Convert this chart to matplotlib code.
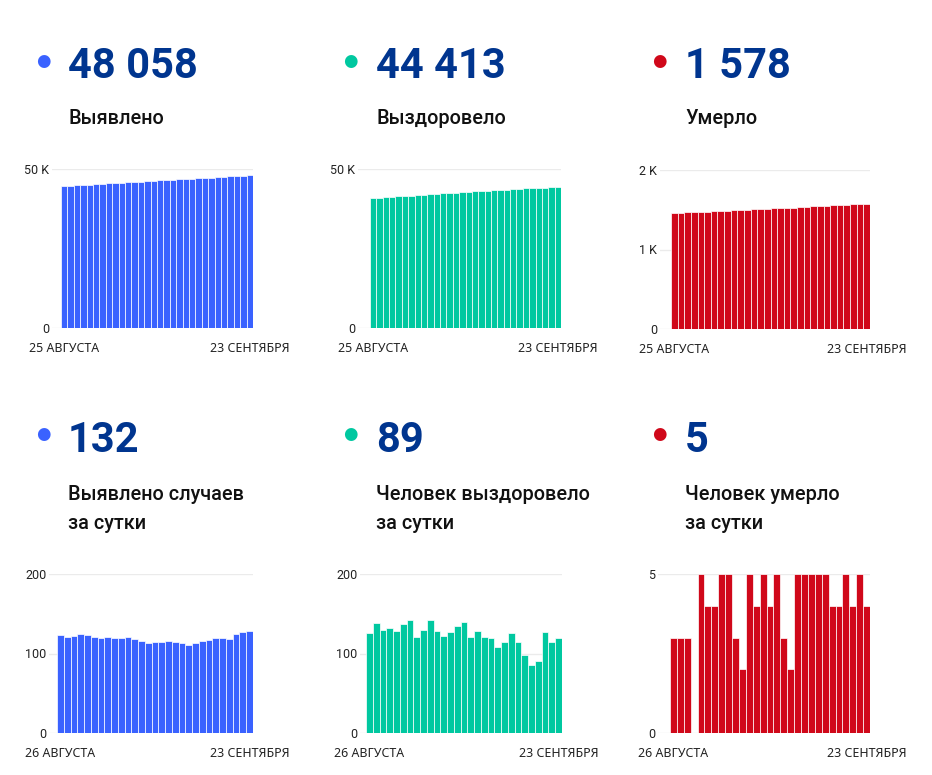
import matplotlib
matplotlib.use("Agg")
import matplotlib.pyplot as plt

plt.rcParams['font.family'] = ['Roboto', 'DejaVu Sans']

# cumulative, 25 Aug .. 23 Sep
dates_total = ["25 АВГУСТА", "23 СЕНТЯБРЯ"]
cases_total = [44610, 44733, 44854, 44976, 45100, 45223, 45344, 45463, 45584, 45704,
               45823, 45944, 46062, 46178, 46291, 46406, 46520, 46636, 46751, 46864,
               46975, 47088, 47204, 47321, 47440, 47560, 47678, 47803, 47930, 48058]
recovered_total = [40852, 40978, 41116, 41245, 41377, 41505, 41642, 41784, 41905, 42035,
                   42177, 42305, 42427, 42554, 42688, 42827, 42948, 43076, 43197, 43316,
                   43424, 43538, 43664, 43778, 43876, 43962, 44053, 44180, 44294, 44413]
deaths_total = [1462, 1465, 1468, 1471, 1471, 1476, 1480, 1484, 1489, 1494,
                1497, 1499, 1504, 1508, 1513, 1517, 1522, 1525, 1527, 1532,
                1537, 1542, 1547, 1552, 1556, 1560, 1565, 1569, 1574, 1578]

# daily, 26 Aug .. 23 Sep
dates_daily = ["26 АВГУСТА", "23 СЕНТЯБРЯ"]
cases_daily = [123, 121, 122, 124, 123, 121, 119, 121, 120, 119, 121, 118, 116, 113, 115,
               114, 116, 115, 113, 111, 113, 116, 117, 119, 120, 118, 125, 127, 128]
recovered_daily = [126, 138, 129, 132, 128, 137, 142, 121, 130, 142, 128, 122, 127, 134, 139,
                   121, 128, 121, 119, 108, 114, 126, 114, 98, 86, 91, 127, 114, 119]
deaths_daily = [3, 3, 3, 0, 5, 4, 4, 5, 5, 3, 2, 5, 4, 5, 4,
                5, 3, 2, 5, 5, 5, 5, 5, 4, 4, 5, 4, 5, 4]

headline_numbers = ["48 058", "44 413", "1 578", "132", "89", "5"]
headline_labels = ["Выявлено", "Выздоровело", "Умерло",
                   "Выявлено случаев\nза сутки", "Человек выздоровело\nза сутки",
                   "Человек умерло\nза сутки"]

ticks_total = [[0, 50000], [0, 50000], [0, 1000, 2000]]
ticklabels_total = [["0", "50 K"], ["0", "50 K"], ["0", "1 K", "2 K"]]
ticks_daily = [[0, 100, 200], [0, 100, 200], [0, 5]]
ticklabels_daily = [["0", "100", "200"], ["0", "100", "200"], ["0", "5"]]

BLUE = "#3a62ff"
GREEN = "#00c8a0"
RED = "#d0081a"
NAVY = "#00358f"
colors = [BLUE, GREEN, RED]

W, H = 932, 775
fig = plt.figure(figsize=(W / 100, H / 100), dpi=100)


def px_axes(left, top, right, bottom):
    return fig.add_axes([left / W, 1 - bottom / H, (right - left) / W, (bottom - top) / H])


def bar_chart(values, color, ticks, ticklabels, dates, grid_left, bar_left, right, top, bottom):
    ax = px_axes(grid_left, top, right, bottom)
    n = len(values)
    bw = (right - bar_left) / n
    pad = (bar_left - grid_left) / bw
    ax.bar(range(n), values, width=1.0, color=color, edgecolor="white", linewidth=0.5)
    ax.set_xlim(-0.5 - pad, n - 0.5)
    ax.set_ylim(0, ticks[-1])
    ax.set_yticks(ticks)
    ax.set_yticklabels(ticklabels)
    ax.set_xticks([0, n - 1])
    ax.set_xticklabels(dates, family=["Noto Sans", "DejaVu Sans"], fontsize=8.9)
    ax.tick_params(axis="y", length=0, pad=2, labelsize=9, labelcolor="#222222")
    ax.tick_params(axis="x", length=0, pad=10, labelcolor="#222222")
    for s in ax.spines.values():
        s.set_visible(False)
    ax.grid(axis="y", color="#ebebeb", linewidth=1)
    ax.set_axisbelow(True)
    return ax


tops = [
    (cases_total, 52, 61, 253, 169, 328),
    (recovered_total, 358, 370, 561, 169, 328),
    (deaths_total, 660, 671, 870, 170, 329),
]
bots = [
    (cases_daily, 49, 57, 253, 574, 733),
    (recovered_daily, 360, 366, 562, 574, 733),
    (deaths_daily, 658, 670, 870, 574, 733),
]
for i, (vals, gl, bl, r, t, b) in enumerate(tops):
    bar_chart(vals, colors[i], ticks_total[i], ticklabels_total[i], dates_total, gl, bl, r, t, b)
for i, (vals, gl, bl, r, t, b) in enumerate(bots):
    bar_chart(vals, colors[i], ticks_daily[i], ticklabels_daily[i], dates_daily, gl, bl, r, t, b)

# headers
dot_x = [43, 350, 659]
text_x = [68, 376, 685]
rows = [(61, 78, 124), (434, 452, 500)]
for r, (dot_y, num_base, lab_base) in enumerate(rows):
    for c in range(3):
        k = r * 3 + c
        fig.text(dot_x[c] / W, 1 - dot_y / H, "\u25CF", color=colors[c], fontsize=12,
                 ha="center", va="center", family="DejaVu Sans")
        fig.text(text_x[c] / W, 1 - num_base / H, headline_numbers[k], color=NAVY,
                 fontsize=30, fontweight="bold", ha="left", va="baseline")
        lines = headline_labels[k].split("\n")
        for j, line in enumerate(lines):
            fig.text(text_x[c] / W, 1 - (lab_base + 29 * j) / H, line,
                     color="#111111", fontsize=14.3, fontweight="medium",
                     ha="left", va="baseline")

fig.savefig("out.png", dpi=100)
